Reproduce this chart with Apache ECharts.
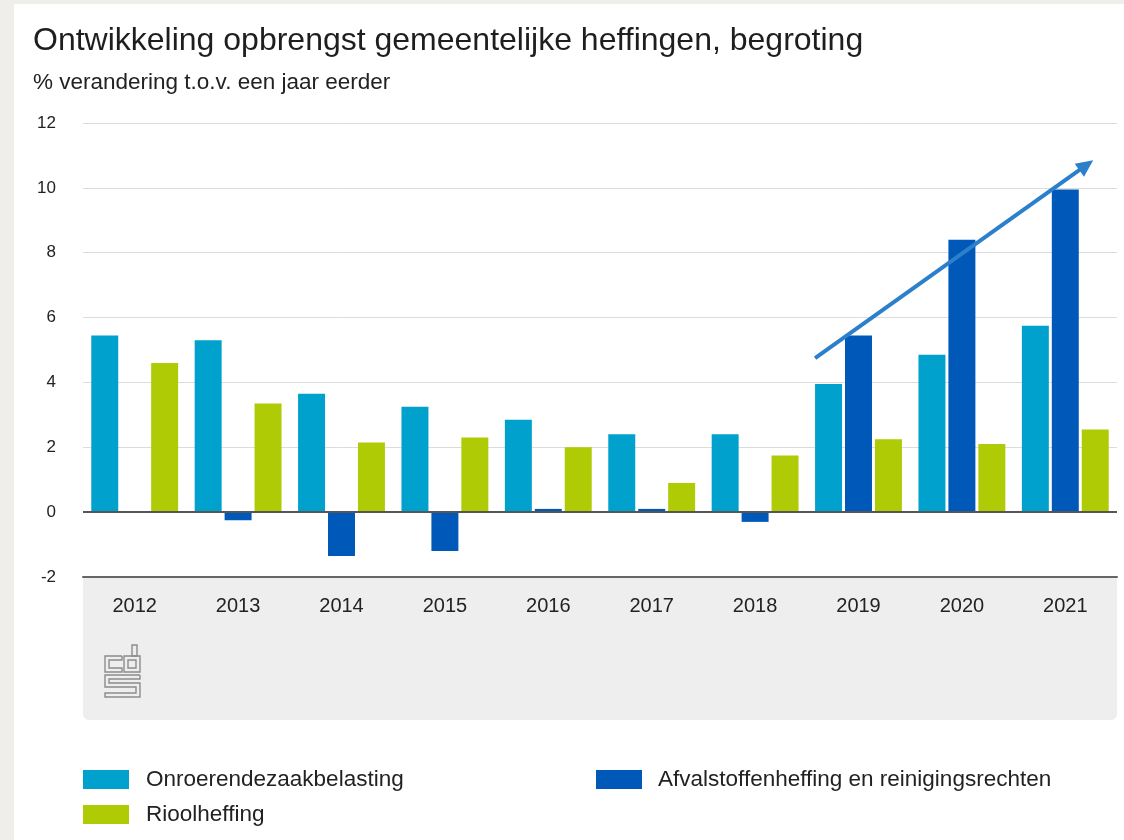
<!DOCTYPE html>
<html>
<head>
<meta charset="utf-8">
<script src="https://cdn.jsdelivr.net/npm/echarts@6/dist/echarts.min.js"></script>
<style>
  html, body { margin: 0; padding: 0; background: #efeeea; width: 1124px; height: 840px; overflow: hidden; }
  #chart { position: absolute; left: 14px; top: 4px; width: 1110px; height: 836px; background: #ffffff; }
</style>
</head>
<body>
<div id="chart"></div>
<script>
// ---- data ----
var years = ['2012', '2013', '2014', '2015', '2016', '2017', '2018', '2019', '2020', '2021'];
var ozb = [5.45, 5.3, 3.65, 3.25, 2.85, 2.4, 2.4, 3.95, 4.85, 5.75];
var afval = [0, -0.25, -1.35, -1.2, 0.1, 0.1, -0.3, 5.45, 8.4, 9.95];
var riool = [4.6, 3.35, 2.15, 2.3, 2.0, 0.9, 1.75, 2.25, 2.1, 2.55];
var seriesNames = ['Onroerendezaakbelasting', 'Afvalstoffenheffing en reinigingsrechten', 'Rioolheffing'];
var yTicks = { min: -2, max: 12, interval: 2 };
// trend arrow annotation, in data units (category index, value)
var arrowStart = [6.58, 4.75];
var arrowEnd = [9.27, 10.85];

var COLORS = ['#00a1cd', '#0058b8', '#afcb05'];
var FONT = '"Liberation Sans", Arial, Helvetica, sans-serif';

var chart = echarts.init(document.getElementById('chart'), null, { renderer: 'canvas' });

var GRID = { left: 69, right: 7, top: 119, bottom: 263 };

function logo(x0, y0) {
  var st = { fill: null, stroke: '#8c8c8c', lineWidth: 1.4 };
  return {
    type: 'group', id: 'logo', x: x0, y: y0, z: 5,
    children: [
      { type: 'rect', shape: { x: 27, y: 0, width: 5, height: 11 }, style: st },
      { type: 'polyline', shape: { points: [[17,11],[0,11],[0,27],[17,27],[17,23],[4,23],[4,15],[17,15],[17,11]] }, style: st },
      { type: 'rect', shape: { x: 19, y: 11, width: 16, height: 16 }, style: st },
      { type: 'rect', shape: { x: 23, y: 15, width: 8, height: 8 }, style: st },
      { type: 'polyline', shape: { points: [[35,30],[0,30],[0,42],[31,42],[31,48],[0,48],[0,52],[35,52],[35,38],[4,38],[4,34],[35,34],[35,30]] }, style: st }
    ]
  };
}

var option = {
  backgroundColor: '#ffffff',
  animation: false,
  textStyle: { fontFamily: FONT },
  title: [
    {
      text: 'Ontwikkeling opbrengst gemeentelijke heffingen, begroting',
      left: 19, top: 21, padding: 0,
      textStyle: { fontFamily: FONT, fontSize: 32, fontWeight: 'normal', color: '#1e1e1e' }
    },
    {
      text: '% verandering t.o.v. een jaar eerder',
      left: 19, top: 67, padding: 0,
      textStyle: { fontFamily: FONT, fontSize: 22.5, fontWeight: 'normal', color: '#222' }
    }
  ],
  legend: [
    {
      data: [seriesNames[0], seriesNames[2]],
      orient: 'vertical', left: 69, top: 764, padding: 0,
      itemWidth: 46, itemHeight: 19, itemGap: 12, icon: 'rect',
      selectedMode: false,
      textStyle: { fontFamily: FONT, fontSize: 22.5, color: '#222', padding: [0, 0, 0, 12], lineHeight: 19 }
    },
    {
      data: [seriesNames[1]],
      orient: 'vertical', left: 582, top: 764, padding: 0,
      itemWidth: 46, itemHeight: 19, icon: 'rect',
      selectedMode: false,
      textStyle: { fontFamily: FONT, fontSize: 22.5, color: '#222', padding: [0, 0, 0, 11], lineHeight: 19 }
    }
  ],
  grid: GRID,
  xAxis: {
    type: 'category',
    data: years,
    axisLine: { onZero: false, lineStyle: { color: '#666', width: 2 } },
    axisTick: { show: false },
    axisLabel: { fontFamily: FONT, fontSize: 20, color: '#222', margin: 19 }
  },
  yAxis: {
    type: 'value',
    min: yTicks.min, max: yTicks.max, interval: yTicks.interval,
    axisLine: { show: false },
    axisTick: { show: false },
    axisLabel: { fontFamily: FONT, fontSize: 17, color: '#222', margin: 27 },
    splitLine: { lineStyle: { color: '#dcdcdc', width: 1 } }
  },
  series: [
    {
      name: seriesNames[0], type: 'bar', data: ozb,
      itemStyle: { color: COLORS[0] },
      barCategoryGap: '16%', barGap: '11%',
      markLine: {
        silent: true, symbol: ['none', 'none'],
        label: { show: false },
        lineStyle: { color: '#555', width: 2, type: 'solid' },
        data: [{ yAxis: 0 }]
      }
    },
    { name: seriesNames[1], type: 'bar', data: afval, itemStyle: { color: COLORS[1] }, barCategoryGap: '16%', barGap: '11%' },
    { name: seriesNames[2], type: 'bar', data: riool, itemStyle: { color: COLORS[2] }, barCategoryGap: '16%', barGap: '11%' }
  ],
  graphic: [
    {
      type: 'rect', id: 'footer', z: -10,
      shape: { x: GRID.left, y: 836 - GRID.bottom + 1, width: 1110 - GRID.left - GRID.right, height: 142, r: [0, 0, 6, 6] },
      style: { fill: '#eeeeee' }
    },
    logo(91, 641)
  ]
};

chart.setOption(option);

// arrow annotation placed through the axes' scales
function toPx(pt) {
  var p0 = chart.convertToPixel({ xAxisIndex: 0, yAxisIndex: 0 }, [0, pt[1]]);
  var p1 = chart.convertToPixel({ xAxisIndex: 0, yAxisIndex: 0 }, [1, pt[1]]);
  return [p0[0] + (p1[0] - p0[0]) * pt[0], p0[1]];
}
var a = toPx(arrowStart), b = toPx(arrowEnd);
var dx = b[0] - a[0], dy = b[1] - a[1], len = Math.sqrt(dx * dx + dy * dy);
var ux = dx / len, uy = dy / len, nx = -uy, ny = ux;
var headL = 17, headW = 8;
var base = [b[0] - ux * headL, b[1] - uy * headL];
chart.setOption({
  graphic: [
    {
      type: 'line', id: 'arrowLine', z: 20,
      shape: { x1: a[0], y1: a[1], x2: base[0] + ux * 2, y2: base[1] + uy * 2 },
      style: { stroke: '#2b7fcb', lineWidth: 4 }
    },
    {
      type: 'polygon', id: 'arrowHead', z: 20,
      shape: { points: [b, [base[0] + nx * headW, base[1] + ny * headW], [base[0] - nx * headW, base[1] - ny * headW]] },
      style: { fill: '#2b7fcb' }
    }
  ]
});
</script>
</body>
</html>
